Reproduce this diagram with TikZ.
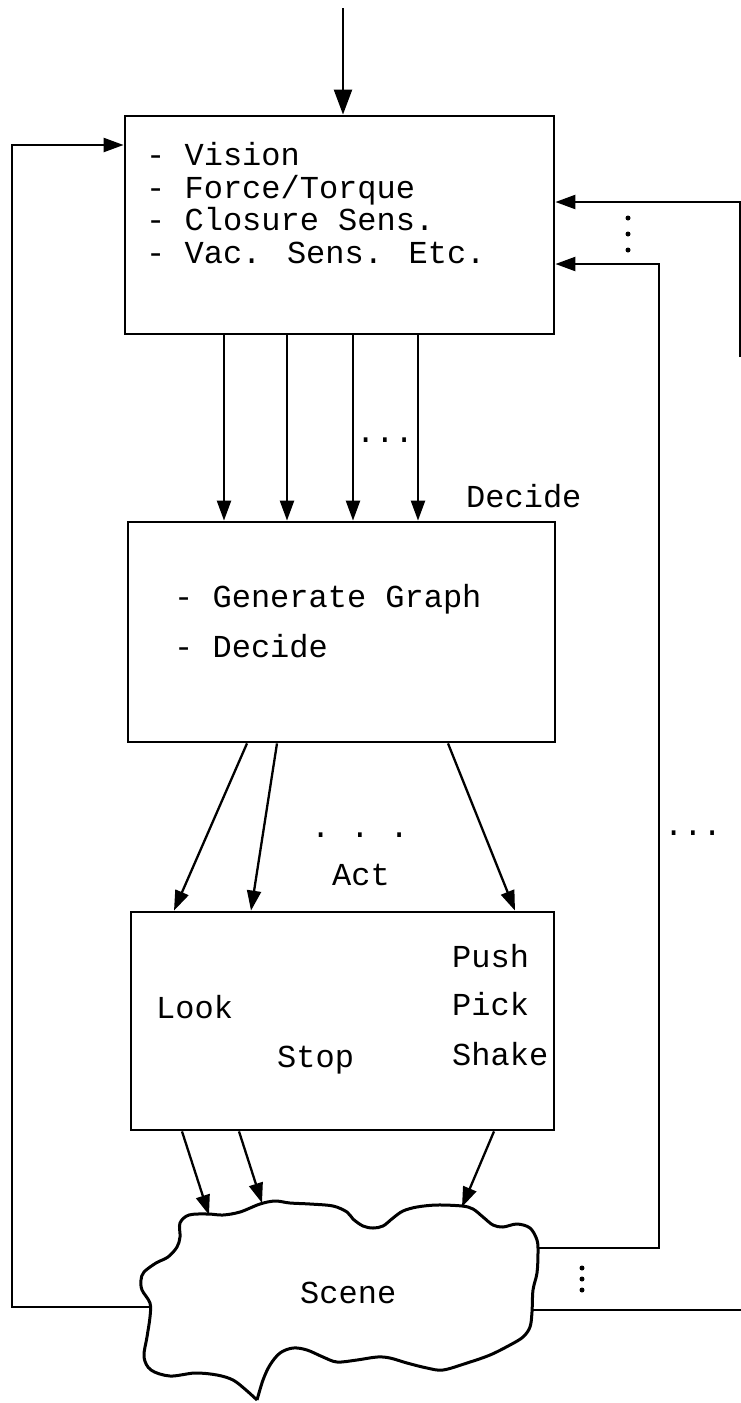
\documentclass[tikz,border=0pt]{standalone}
\usepackage{fontspec}
\newfontfamily\labelfont{Liberation Mono}
\usetikzlibrary{arrows.meta}
\begin{document}
\begin{tikzpicture}[x=1pt,y=-1pt,
  txt/.style={font=\labelfont\fontsize{32}{38}\selectfont, inner sep=0pt, anchor=base west},
  blk/.style={draw, line width=2.8pt, inner sep=0pt},
  ln/.style={line width=2.3pt},
  arr/.style={ln, -{Triangle[length=20pt,width=14pt]}},
  bigarr/.style={ln, -{Triangle[length=25pt,width=18pt]}}]
\useasboundingbox (0,0) rectangle (741,1403);

% the three blocks
\node[blk, minimum width=429pt, minimum height=218pt] (sense)  at (339.5,225) {};
\node[blk, minimum width=427pt, minimum height=220pt] (decide) at (341.5,632) {};
\node[blk, minimum width=423pt, minimum height=218pt] (act)    at (342.5,1021) {};

% sensing block text
\node[txt] (s1) at (146,165) {- Vision};
\node[txt] (s2) at (146,198) {- Force/Torque};
\node[txt] (s3) at (146,230) {- Closure Sens.};
\node[txt] (s4) at (146,263) {- Vac. Sens. Etc.};

% decision block text
\node[txt] (g1) at (174,607) {- Generate Graph};
\node[txt] (g2) at (174,657) {- Decide};
\node[txt] (declab) at (466,507) {Decide};

% action block text
\node[txt] (actlab) at (332,885) {Act};
\node[txt] (push)  at (452,967)  {Push};
\node[txt] (pick)  at (452,1015) {Pick};
\node[txt] (shake) at (452,1065) {Shake};
\node[txt] (look)  at (156,1018) {Look};
\node[txt] (stop)  at (277,1067) {Stop};

% ellipses
\node[txt] (d1) at (356,442) {...};
\node[txt] (d2) at (311,837) {.\hspace{20pt}.\hspace{20pt}.};
\node[txt] (d3) at (664,835) {...};
\foreach \yy in {218,234,250} \fill (628,\yy) circle (2.5);
\foreach \yy in {1268,1279,1290} \fill (582,\yy) circle (2.5);

% the scene
\draw[line width=3pt, line join=round]
  plot[smooth, tension=0.55] coordinates {
  (257,1400) (263,1380) (270,1365) (280,1353) (293,1348) (307,1350) (323,1357)
  (337,1362) (357,1360) (377,1357) (390,1358) (407,1363) (427,1368) (443,1370)
  (467,1363) (490,1355) (510,1345) (523,1337) (530,1327) (532,1312) (533,1290)
  (537,1273) (538,1253) (537,1240) (530,1228) (517,1224) (503,1227) (493,1225)
  (483,1217) (473,1209) (462,1206) (437,1205) (417,1207) (403,1211) (393,1218)
  (383,1226) (373,1228) (363,1226) (353,1219) (347,1212) (333,1206) (310,1204)
  (290,1203) (275,1201) (260,1204) (240,1212) (223,1215) (208,1214) (189,1215)
  (180,1223) (180,1237) (177,1247) (168,1257) (156,1263) (144,1272) (141,1280)
  (142,1290) (150,1303) (150,1317) (147,1337) (144,1357) (151,1370) (170,1376)
  (195,1373) (217,1375) (233,1380) (246,1390) (257,1400)};
\node[txt] (scene) at (300,1303) {Scene};

% attachment points on the scene outline
\coordinate (in1) at (209,1215);
\coordinate (in2) at (262,1203);
\coordinate (in3) at (462,1207);
\coordinate (outl) at (150,1307);
\coordinate (outr1) at (538,1248);
\coordinate (outr2) at (532,1310);

% input from above
\coordinate (top) at (343,8);
\draw[bigarr] (top) -- (top |- sense.north);

% sensors to decision
\foreach \a/\b in {-115.5/-117.5, -52.5/-54.5, 13.5/11.5, 78.5/76.5}
  \draw[arr] ([xshift=\a pt]sense.south) -- ([xshift=\b pt]decide.north);

% decision to actions
\draw[arr] ([xshift=-94.5pt]decide.south) -- ([xshift=-168.5pt]act.north);
\draw[arr] ([xshift=-64.5pt]decide.south) -- ([xshift=-91.5pt]act.north);
\draw[arr] ([xshift=106.5pt]decide.south) -- ([xshift=172.5pt]act.north);

% actions to scene
\draw[arr] ([xshift=-160.5pt]act.south) -- (in1);
\draw[arr] ([xshift=-103.5pt]act.south) -- (in2);
\draw[arr] ([xshift=151.5pt]act.south) -- (in3);

% feedback loops back to sensing
\coordinate (lc) at (12,145);
\draw[arr] (outl) -| (lc) -- (lc -| sense.west);
\coordinate (rc) at (659,264);
\draw[arr] (outr1) -| (rc) -- (rc -| sense.east);
\coordinate (oc) at (740,357);
\coordinate (ot) at (740,202);
\draw[arr] (oc) -- (ot) -- (ot -| sense.east);
\coordinate (ob) at (741,1310);
\draw[ln] (outr2) -- (ob);
\end{tikzpicture}
\end{document}
